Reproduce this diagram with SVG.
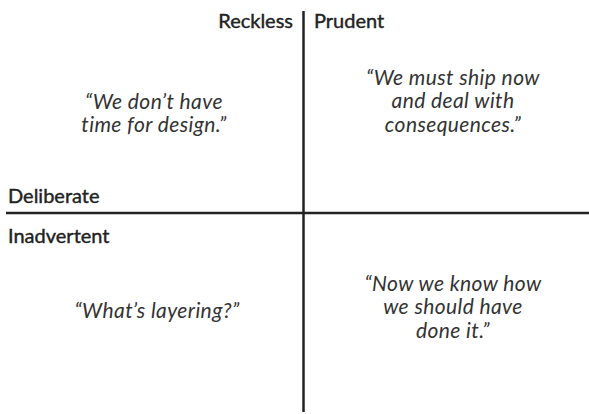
<svg xmlns="http://www.w3.org/2000/svg" width="589" height="414" viewBox="0 0 589 414">
<style>
.lbl{font-family:Lato,"Open Sans","DejaVu Sans",sans-serif;font-size:20px;font-weight:normal;fill:#222;stroke:#222;stroke-width:0.4}
.q{font-family:Lato,"Open Sans","DejaVu Sans",sans-serif;font-size:21px;font-style:italic;letter-spacing:0.4px;fill:#333;text-anchor:middle}
.ax{stroke:#222;stroke-width:2.5;fill:none}
</style>
<rect width="589" height="414" fill="#fff"/>
<g id="connectors">
<line class="ax" x1="303.5" y1="11" x2="303.5" y2="412"/>
<line class="ax" x1="6" y1="213" x2="589" y2="213"/>
</g>
<g id="reckless"><text class="lbl" x="293" y="28" text-anchor="end">Reckless</text></g>
<g id="prudent"><text class="lbl" x="314" y="28">Prudent</text></g>
<g id="deliberate"><text class="lbl" x="8" y="203">Deliberate</text></g>
<g id="inadvertent"><text class="lbl" x="8" y="243">Inadvertent</text></g>
<g id="q1"><text class="q" x="154" y="109">“We don’t have</text><text class="q" x="154" y="132">time for design.”</text></g>
<g id="q2"><text class="q" x="453" y="85">“We must ship now</text><text class="q" x="453" y="108">and deal with</text><text class="q" x="453" y="132">consequences.”</text></g>
<g id="q3"><text class="q" x="157" y="318">“What’s layering?”</text></g>
<g id="q4"><text class="q" x="453" y="291">“Now we know how</text><text class="q" x="453" y="314">we should have</text><text class="q" x="453" y="338">done it.”</text></g>
</svg>
